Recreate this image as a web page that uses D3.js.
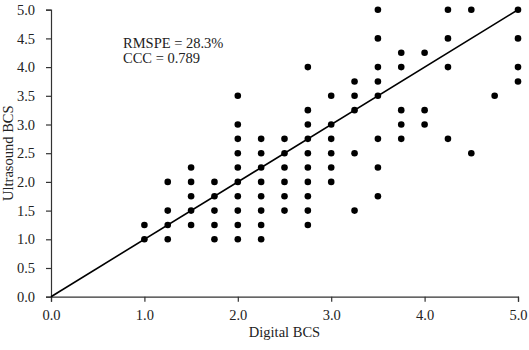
<!DOCTYPE html>
<html>
<head>
<meta charset="utf-8">
<script src="https://cdn.jsdelivr.net/npm/d3@7"></script>
<style>
  body { margin: 0; background: #fff; }
  svg { display: block; }
  text { font-family: "Liberation Serif", "Times New Roman", serif; fill: #222; }
</style>
</head>
<body>
<svg id="chart" width="529" height="350"></svg>
<script>
// digital BCS score for each column of points
const digital = [1.0, 1.25, 1.5, 1.75, 2.0, 2.25, 2.5, 2.75, 3.0, 3.25, 3.5, 3.75, 4.0, 4.25, 4.5, 4.75, 5.0];
// ultrasound BCS scores seen in each column
const ultrasound = [
  [1.25, 1.0],
  [2.0, 1.5, 1.25, 1.0],
  [2.25, 2.0, 1.75, 1.5, 1.25],
  [2.0, 1.75, 1.5, 1.25, 1.0],
  [3.5, 3.0, 2.75, 2.5, 2.25, 2.0, 1.75, 1.5, 1.25, 1.0],
  [2.75, 2.5, 2.25, 2.0, 1.75, 1.5, 1.25, 1.0],
  [2.75, 2.5, 2.25, 2.0, 1.75, 1.5],
  [4.0, 3.25, 3.0, 2.75, 2.5, 2.25, 2.0, 1.75, 1.5, 1.25],
  [3.5, 3.0, 2.75, 2.5, 2.25, 2.0],
  [3.75, 3.5, 3.25, 2.5, 1.5],
  [5.0, 4.5, 4.0, 3.75, 3.5, 2.75, 2.25, 1.75],
  [4.25, 4.0, 3.25, 3.0, 2.75],
  [4.25, 3.25, 3.0],
  [5.0, 4.5, 4.0, 2.75],
  [5.0, 2.5],
  [3.5],
  [5.0, 4.5, 4.0, 3.75]
];
const xTicks = [0, 1, 2, 3, 4, 5];
const yTicks = [0, 0.5, 1, 1.5, 2, 2.5, 3, 3.5, 4, 4.5, 5];
const stats = ["RMSPE = 28.3%", "CCC = 0.789"];

const svg = d3.select('#chart');
const x = d3.scaleLinear().domain([0, 5]).range([51, 518]);
const y = d3.scaleLinear().domain([0, 5]).range([296.7, 9.7]);

const points = [];
digital.forEach((dx, i) => ultrasound[i].forEach(uy => points.push({ x: dx, y: uy })));

// axes
const xAxis = svg.append('g')
  .attr('transform', `translate(0,${y(0)})`)
  .call(d3.axisBottom(x).tickValues(xTicks).tickFormat(d3.format('.1f')).tickSize(5).tickPadding(8));
const yAxis = svg.append('g')
  .attr('transform', `translate(${x(0)},0)`)
  .call(d3.axisLeft(y).tickValues(yTicks).tickFormat(d3.format('.1f')).tickSize(5).tickPadding(11));

[xAxis, yAxis].forEach(a => {
  a.select('.domain').attr('stroke', '#333').attr('stroke-width', 1.2);
  a.selectAll('.tick line').attr('stroke', '#333').attr('stroke-width', 1.2);
  a.selectAll('.tick text').attr('font-size', 14.5).attr('fill', '#222')
    .style('font-family', '"Liberation Serif", serif');
});

// 1:1 line
svg.append('line')
  .attr('x1', x(0)).attr('y1', y(0))
  .attr('x2', x(5)).attr('y2', y(5))
  .attr('stroke', '#000').attr('stroke-width', 1.6);

// points
svg.append('g').selectAll('circle')
  .data(points)
  .join('circle')
  .attr('cx', d => x(d.x))
  .attr('cy', d => y(d.y))
  .attr('r', 3.3)
  .attr('fill', '#000');

// stats text
svg.append('g').selectAll('text')
  .data(stats)
  .join('text')
  .attr('x', 123)
  .attr('y', (d, i) => 48 + i * 15)
  .attr('font-size', 14.5)
  .text(d => d);

// axis titles
svg.append('text')
  .attr('x', x(2.5)).attr('y', 337)
  .attr('text-anchor', 'middle')
  .attr('font-size', 14.5)
  .text('Digital BCS');
svg.append('text')
  .attr('transform', `translate(13,${y(2.5)}) rotate(-90)`)
  .attr('text-anchor', 'middle')
  .attr('font-size', 14.5)
  .text('Ultrasound BCS');
</script>
</body>
</html>
